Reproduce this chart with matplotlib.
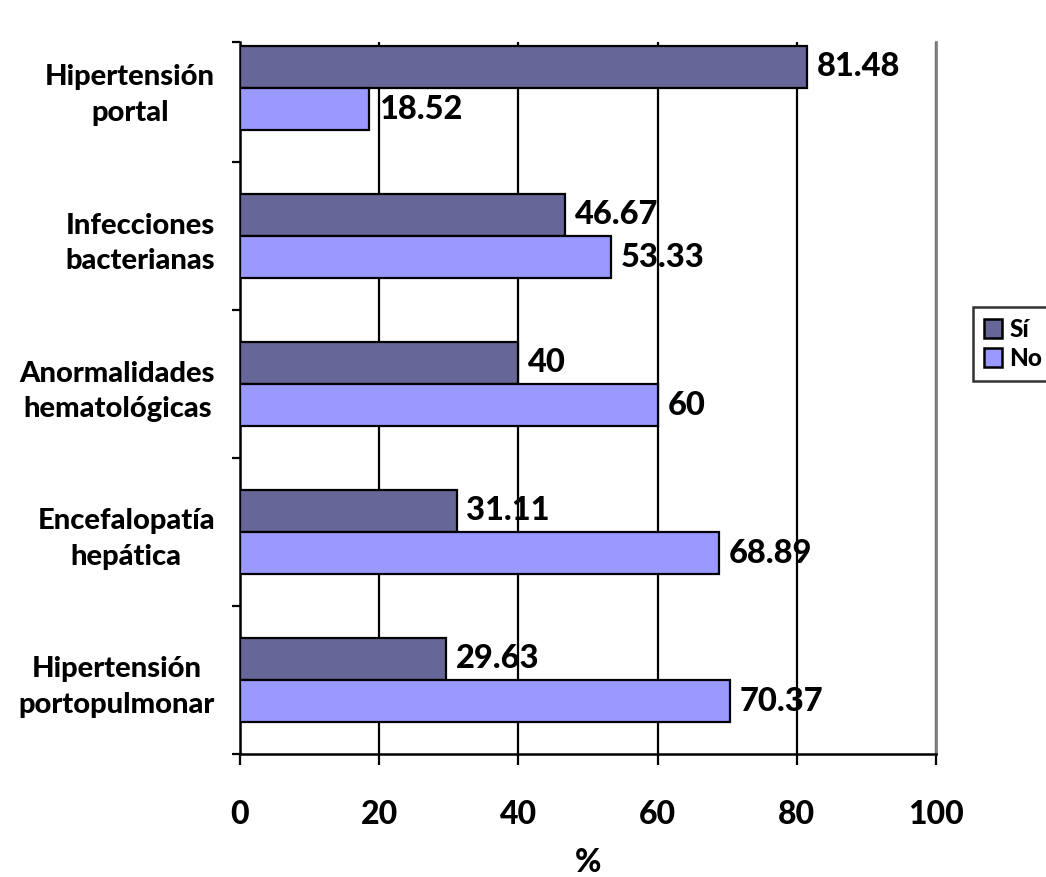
import numpy as np
import matplotlib
matplotlib.use("Agg")
import matplotlib.pyplot as plt
from matplotlib.patches import Patch

plt.rcParams['font.family'] = ['Lato', 'DejaVu Sans']
WEIGHT = 900
plt.rcParams['font.weight'] = WEIGHT

# Categories listed bottom to top
categories = [
    "Hipertensión\nportopulmonar",
    "Encefalopatía\nhepática",
    "Anormalidades\nhematológicas",
    "Infecciones\nbacterianas",
    "Hipertensión\nportal",
]
si_values = [29.63, 31.11, 40, 46.67, 81.48]
no_values = [70.37, 68.89, 60, 53.33, 18.52]
series_names = ["Sí", "No"]
x_ticks = [0, 20, 40, 60, 80, 100]

color_si = "#666699"
color_no = "#9999FF"

W, H = 1046, 877
fig = plt.figure(figsize=(W / 100, H / 100), dpi=100)
ax = fig.add_axes([240 / W, (H - 754) / H, (936 - 240) / W, (754 - 42) / H])

y = np.arange(len(categories))
bar_h = 0.285

bars_si = ax.barh(y + bar_h / 2, si_values, height=bar_h, color=color_si,
                  edgecolor="black", linewidth=1.6, zorder=3)
bars_no = ax.barh(y - bar_h / 2, no_values, height=bar_h, color=color_no,
                  edgecolor="black", linewidth=1.6, zorder=3)

for bars, vals in ((bars_si, si_values), (bars_no, no_values)):
    for b, v in zip(bars, vals):
        ax.annotate(f"{v:g}", xy=(v, b.get_y() + b.get_height() / 2),
                    xytext=(7, 0), textcoords="offset points",
                    ha="left", va="center", fontsize=23.5, fontweight=WEIGHT,
                    zorder=5)

ax.set_xlim(0, 100)
top = (754 - 42) / 148.0 - 0.5
ax.set_ylim(-0.5, top)

ax.set_xticks(x_ticks)
ax.set_xticklabels([str(t) for t in x_ticks], fontsize=23, fontweight=WEIGHT)
ax.tick_params(axis="x", direction="out", length=8, width=1.6, pad=25, color="black")

ax.set_yticks(y)
ax.set_yticklabels(categories, fontsize=21, fontweight=WEIGHT,
                   ha="right", multialignment="center", linespacing=1.45)
ax.set_yticks(list(np.arange(-0.5, len(categories) - 0.5, 1.0)) + [top], minor=True)
ax.tick_params(axis="y", which="major", length=0, pad=18)
ax.tick_params(axis="y", which="minor", direction="out", length=6, width=1.6, color="black")

ax.set_xlabel("%", fontsize=23, fontweight=WEIGHT, labelpad=14)

ax.grid(axis="x", color="black", linewidth=1.6, zorder=0)
ax.set_axisbelow(True)

ax.spines["top"].set_visible(False)
ax.spines["left"].set_linewidth(1.8)
ax.spines["bottom"].set_linewidth(1.8)
ax.spines["right"].set_color("#808080")
ax.spines["right"].set_linewidth(2)

handles = [Patch(facecolor=color_si, edgecolor="black", linewidth=1.8),
           Patch(facecolor=color_no, edgecolor="black", linewidth=1.8)]
leg = fig.legend(handles, series_names, loc="upper left",
                 bbox_to_anchor=(973 / W, 1 - 307 / H), frameon=True,
                 fancybox=False, edgecolor="black", fontsize=17.5,
                 handlelength=0.75, handleheight=0.8, handletextpad=0.3,
                 borderpad=0.45, labelspacing=0.25, borderaxespad=0)
leg.get_frame().set_linewidth(1.8)
for t in leg.get_texts():
    t.set_fontweight(WEIGHT)

fig.savefig("out.png", dpi=100)
